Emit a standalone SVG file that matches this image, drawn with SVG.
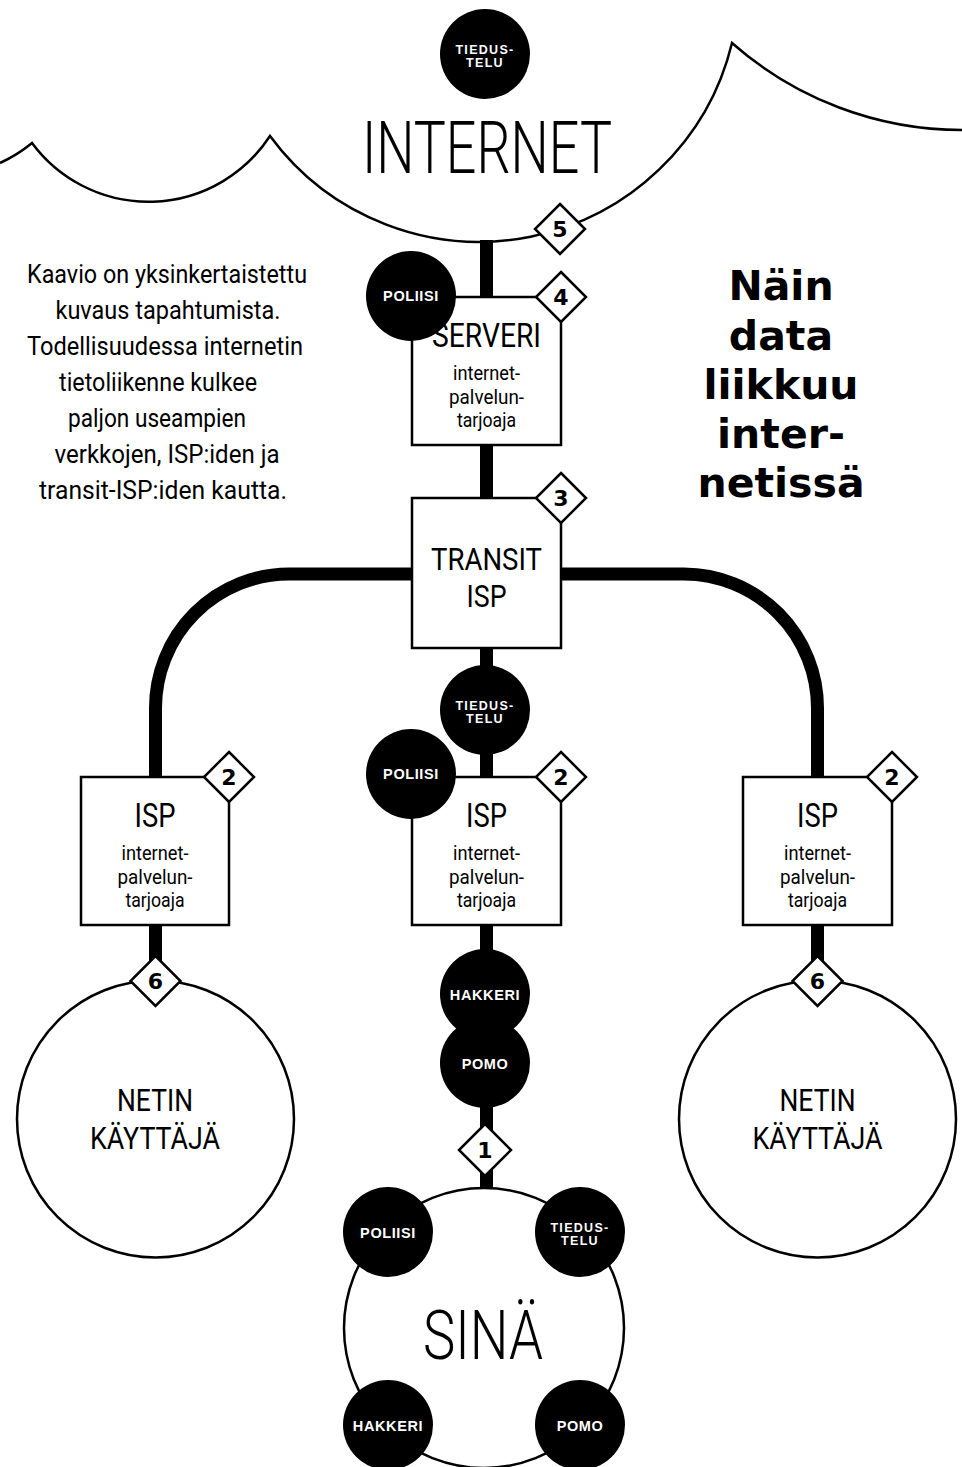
<svg xmlns="http://www.w3.org/2000/svg" width="962" height="1467" viewBox="0 0 962 1467">
<style>
.cloud{fill:none;stroke:#000;stroke-width:2.5}
.conn{fill:none;stroke:#000;stroke-width:13}
.box{fill:#fff;stroke:#000;stroke-width:2.5}
.dia{fill:#fff;stroke:#000;stroke-width:2.5}
.num{font-family:"DejaVu Sans",sans-serif;font-weight:bold;font-size:22px;text-anchor:middle;fill:#000}
.actor{fill:#000}
.lbl{font-family:"Liberation Sans",Arial,sans-serif;font-weight:bold;fill:#fff;text-anchor:middle;font-size:14.5px;letter-spacing:0.6px}
.lbl2{font-family:"Liberation Sans",Arial,sans-serif;font-weight:bold;fill:#fff;text-anchor:middle;font-size:12.5px;letter-spacing:1.3px}
.cond{font-family:Roboto,"Liberation Sans",sans-serif;text-anchor:middle;fill:#000}
.ttl{font-weight:400}
.lt{font-weight:300}
.sub{font-size:21px}
.para{font-family:Roboto,"Liberation Sans",sans-serif;text-anchor:middle;font-size:25px;fill:#000}
.head{font-family:"DejaVu Sans",sans-serif;font-weight:bold;font-size:41px;text-anchor:middle;fill:#000}
.user{fill:#fff;stroke:#000;stroke-width:2.5}
</style>
<rect width="962" height="1467" fill="#fff"/>

<g id="internet">
<path class="cloud" d="M 0 163 A 145 145 0 0 0 32 143 A 145 145 0 0 0 270 136 A 260 260 0 0 0 732 43 A 348 348 0 0 0 962 130"/>
<text class="cond lt" x="487" y="173" font-size="72" textLength="250" lengthAdjust="spacingAndGlyphs">INTERNET</text>
</g>

<g id="connectors">
<path class="conn" d="M 486.5 240 V 298"/>
<path class="conn" d="M 486.5 444 V 499"/>
<path class="conn" d="M 486.5 647 V 778"/>
<path class="conn" d="M 486.5 925 V 1190"/>
<path class="conn" d="M 412 574 H 289 A 134 134 0 0 0 155.5 708 V 778"/>
<path class="conn" d="M 561 574 H 684 A 134 134 0 0 1 817.5 708 V 778"/>
<path class="conn" d="M 155.5 924 V 982"/>
<path class="conn" d="M 817.5 924 V 982"/>
</g>

<g id="tiedustelu-internet">
<circle class="actor" cx="485" cy="54" r="45"/>
<text class="lbl2" x="485" y="54">TIEDUS-</text>
<text class="lbl2" x="485" y="67">TELU</text>
</g>

<g id="step5">
<polygon class="dia" points="560,204 585,229 560,254 535,229"/>
<text class="num" x="560" y="237">5</text>
</g>

<g id="intro">
<text class="para" x="167" y="283" textLength="280" lengthAdjust="spacingAndGlyphs">Kaavio on yksinkertaistettu</text>
<text class="para" x="168" y="319" textLength="225" lengthAdjust="spacingAndGlyphs">kuvaus tapahtumista.</text>
<text class="para" x="165" y="355" textLength="276" lengthAdjust="spacingAndGlyphs">Todellisuudessa internetin</text>
<text class="para" x="158" y="391" textLength="198" lengthAdjust="spacingAndGlyphs">tietoliikenne kulkee</text>
<text class="para" x="157" y="427" textLength="178" lengthAdjust="spacingAndGlyphs">paljon useampien</text>
<text class="para" x="167" y="463" textLength="225" lengthAdjust="spacingAndGlyphs">verkkojen, ISP:iden ja</text>
<text class="para" x="163" y="499" textLength="248" lengthAdjust="spacingAndGlyphs">transit-ISP:iden kautta.</text>
</g>

<g id="title">
<text class="head" x="781" y="300">Näin</text>
<text class="head" x="781" y="350">data</text>
<text class="head" x="781" y="399">liikkuu</text>
<text class="head" x="781" y="448">inter-</text>
<text class="head" x="781" y="497">netissä</text>
</g>

<g id="serveri">
<rect class="box" x="412" y="297" width="149" height="148"/>
<text class="cond ttl" x="486.5" y="347" font-size="34" textLength="109" lengthAdjust="spacingAndGlyphs">SERVERI</text>
<text class="cond sub" x="486.5" y="380" textLength="67" lengthAdjust="spacingAndGlyphs">internet-</text>
<text class="cond sub" x="486.5" y="404" textLength="75" lengthAdjust="spacingAndGlyphs">palvelun-</text>
<text class="cond sub" x="486.5" y="427" textLength="59" lengthAdjust="spacingAndGlyphs">tarjoaja</text>
</g>
<g id="poliisi-serveri">
<circle class="actor" cx="411" cy="296" r="45"/>
<text class="lbl" x="411" y="301">POLIISI</text>
</g>
<g id="step4">
<polygon class="dia" points="561,272 586,297 561,322 536,297"/>
<text class="num" x="561" y="305">4</text>
</g>

<g id="transit">
<rect class="box" x="412" y="498" width="149" height="150"/>
<text class="cond ttl" x="486.5" y="570" font-size="31" textLength="111" lengthAdjust="spacingAndGlyphs">TRANSIT</text>
<text class="cond ttl" x="486.5" y="607" font-size="31" textLength="40" lengthAdjust="spacingAndGlyphs">ISP</text>
</g>
<g id="step3">
<polygon class="dia" points="561,473 586,498 561,523 536,498"/>
<text class="num" x="561" y="506">3</text>
</g>

<g id="isp-left">
<rect class="box" x="81" y="777" width="148" height="148"/>
<text class="cond ttl" x="155" y="827" font-size="34" textLength="41" lengthAdjust="spacingAndGlyphs">ISP</text>
<text class="cond sub" x="155" y="860" textLength="67" lengthAdjust="spacingAndGlyphs">internet-</text>
<text class="cond sub" x="155" y="884" textLength="75" lengthAdjust="spacingAndGlyphs">palvelun-</text>
<text class="cond sub" x="155" y="907" textLength="59" lengthAdjust="spacingAndGlyphs">tarjoaja</text>
</g>
<g id="step2-left">
<polygon class="dia" points="229,752 254,777 229,802 204,777"/>
<text class="num" x="229" y="785">2</text>
</g>

<g id="tiedustelu-isp">
<circle class="actor" cx="485" cy="710" r="45"/>
<text class="lbl2" x="485" y="710">TIEDUS-</text>
<text class="lbl2" x="485" y="723">TELU</text>
</g>
<g id="isp-middle">
<rect class="box" x="412" y="777" width="149" height="148"/>
<text class="cond ttl" x="486.5" y="827" font-size="34" textLength="41" lengthAdjust="spacingAndGlyphs">ISP</text>
<text class="cond sub" x="486.5" y="860" textLength="67" lengthAdjust="spacingAndGlyphs">internet-</text>
<text class="cond sub" x="486.5" y="884" textLength="75" lengthAdjust="spacingAndGlyphs">palvelun-</text>
<text class="cond sub" x="486.5" y="907" textLength="59" lengthAdjust="spacingAndGlyphs">tarjoaja</text>
</g>
<g id="poliisi-isp">
<circle class="actor" cx="411" cy="774" r="45"/>
<text class="lbl" x="411" y="779">POLIISI</text>
</g>
<g id="step2-middle">
<polygon class="dia" points="561,752 586,777 561,802 536,777"/>
<text class="num" x="561" y="785">2</text>
</g>

<g id="isp-right">
<rect class="box" x="743" y="777" width="149" height="148"/>
<text class="cond ttl" x="817.5" y="827" font-size="34" textLength="41" lengthAdjust="spacingAndGlyphs">ISP</text>
<text class="cond sub" x="817.5" y="860" textLength="67" lengthAdjust="spacingAndGlyphs">internet-</text>
<text class="cond sub" x="817.5" y="884" textLength="75" lengthAdjust="spacingAndGlyphs">palvelun-</text>
<text class="cond sub" x="817.5" y="907" textLength="59" lengthAdjust="spacingAndGlyphs">tarjoaja</text>
</g>
<g id="step2-right">
<polygon class="dia" points="892,752 917,777 892,802 867,777"/>
<text class="num" x="892" y="785">2</text>
</g>

<g id="user-left">
<circle class="user" cx="155.5" cy="1119" r="138.5"/>
<text class="cond ttl" x="155" y="1111" font-size="32" textLength="76" lengthAdjust="spacingAndGlyphs">NETIN</text>
<text class="cond ttl" x="155" y="1149" font-size="32" textLength="130" lengthAdjust="spacingAndGlyphs">KÄYTTÄJÄ</text>
</g>
<g id="step6-left">
<polygon class="dia" points="155.5,956 180.5,981 155.5,1006 130.5,981"/>
<text class="num" x="155.5" y="989">6</text>
</g>

<g id="user-right">
<circle class="user" cx="817.5" cy="1119" r="138.5"/>
<text class="cond ttl" x="817.5" y="1111" font-size="32" textLength="76" lengthAdjust="spacingAndGlyphs">NETIN</text>
<text class="cond ttl" x="817.5" y="1149" font-size="32" textLength="130" lengthAdjust="spacingAndGlyphs">KÄYTTÄJÄ</text>
</g>
<g id="step6-right">
<polygon class="dia" points="817.5,956 842.5,981 817.5,1006 792.5,981"/>
<text class="num" x="817.5" y="989">6</text>
</g>

<g id="hakkeri-line">
<circle class="actor" cx="485" cy="994" r="45"/>
<text class="lbl" x="485" y="1000">HAKKERI</text>
</g>
<g id="pomo-line">
<circle class="actor" cx="485" cy="1063" r="45"/>
<text class="lbl" x="485" y="1069">POMO</text>
</g>
<g id="step1">
<polygon class="dia" points="485,1124 511,1150 485,1176 459,1150"/>
<text class="num" x="485" y="1158">1</text>
</g>

<g id="sina">
<circle class="user" cx="484" cy="1328" r="140"/>
<text class="cond lt" x="483" y="1359" font-size="69" textLength="120" lengthAdjust="spacingAndGlyphs">SINÄ</text>
</g>
<g id="poliisi-sina">
<circle class="actor" cx="388" cy="1232" r="45"/>
<text class="lbl" x="388" y="1238">POLIISI</text>
</g>
<g id="tiedustelu-sina">
<circle class="actor" cx="580" cy="1232" r="45"/>
<text class="lbl2" x="580" y="1232">TIEDUS-</text>
<text class="lbl2" x="580" y="1245">TELU</text>
</g>
<g id="hakkeri-sina">
<circle class="actor" cx="388" cy="1425" r="45"/>
<text class="lbl" x="388" y="1431">HAKKERI</text>
</g>
<g id="pomo-sina">
<circle class="actor" cx="580" cy="1425" r="45"/>
<text class="lbl" x="580" y="1431">POMO</text>
</g>
</svg>
